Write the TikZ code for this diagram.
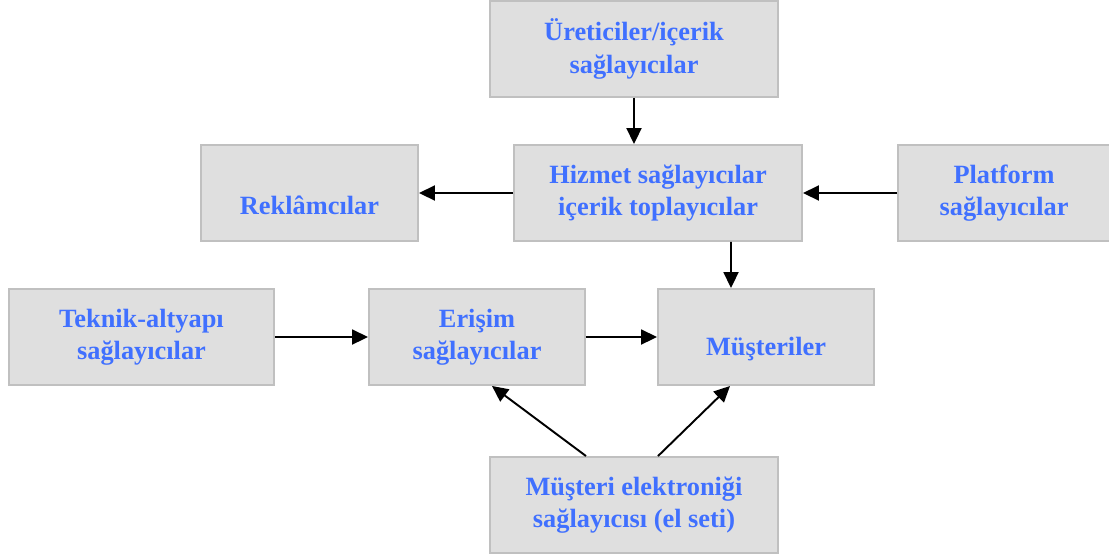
\documentclass[tikz,border=0pt]{standalone}
\usepackage{fontspec}
\setmainfont{Liberation Serif}
\usetikzlibrary{arrows.meta}
\definecolor{kutugri}{HTML}{DFDFDF}
\definecolor{kenargri}{HTML}{C0C0C0}
\definecolor{yazimavi}{HTML}{4070FF}

\begin{document}
\begin{tikzpicture}[kutu/.style = {fill=kutugri,draw=kenargri,line width=1.1pt,minimum height=1.92cm,align=center,text=yazimavi,font=\fontsize{15}{18.4}\selectfont\bfseries},
	ok/.style = {-{Triangle[length=0.32cm,width=0.3cm]},line width=1.1pt}]
		
		\useasboundingbox (0,0) rectangle (22.18,-11.16);
		
		\node[kutu,minimum width=5.76cm] (U) at (12.68,-0.98) {Üreticiler/içerik\\sağlayıcılar};
		\node[kutu,minimum width=5.76cm] (H) at (13.16,-3.86) {Hizmet sağlayıcılar\\içerik toplayıcılar};
		\node[kutu,minimum width=4.34cm] (R) at (6.19,-3.86) {\rule{0pt}{6pt}\\Reklâmcılar};
		\node[kutu,minimum width=4.24cm] (P) at (20.08,-3.86) {Platform\\sağlayıcılar};
		\node[kutu,minimum width=5.30cm] (T) at (2.83,-6.74) {Teknik-altyapı\\sağlayıcılar};
		\node[kutu,minimum width=4.32cm] (E) at (9.54,-6.74) {Erişim\\sağlayıcılar};
		\node[kutu,minimum width=4.32cm] (M) at (15.32,-6.74) {\rule{0pt}{6pt}\\Müşteriler};
		\node[kutu,minimum width=5.76cm] (K) at (12.68,-10.10) {Müşteri elektroniği\\sağlayıcısı (el seti)};
		
		
		\draw[ok] (U.south) -- (U.south |- H.north);
		\draw[ok] (H) -- (R);
		\draw[ok] (P) -- (H);
		\draw[ok] ([xshift=1.46cm]H.south) -- ([xshift=-0.7cm]M.north);
		\draw[ok] (T) -- (E);
		\draw[ok] (E) -- (M);
		\draw[ok] ([xshift=-0.96cm]K.north) -- ([xshift=0.3cm]E.south);
		\draw[ok] ([xshift=0.48cm]K.north) -- ([xshift=-0.72cm]M.south);
		
	\end{tikzpicture}
\end{document}
